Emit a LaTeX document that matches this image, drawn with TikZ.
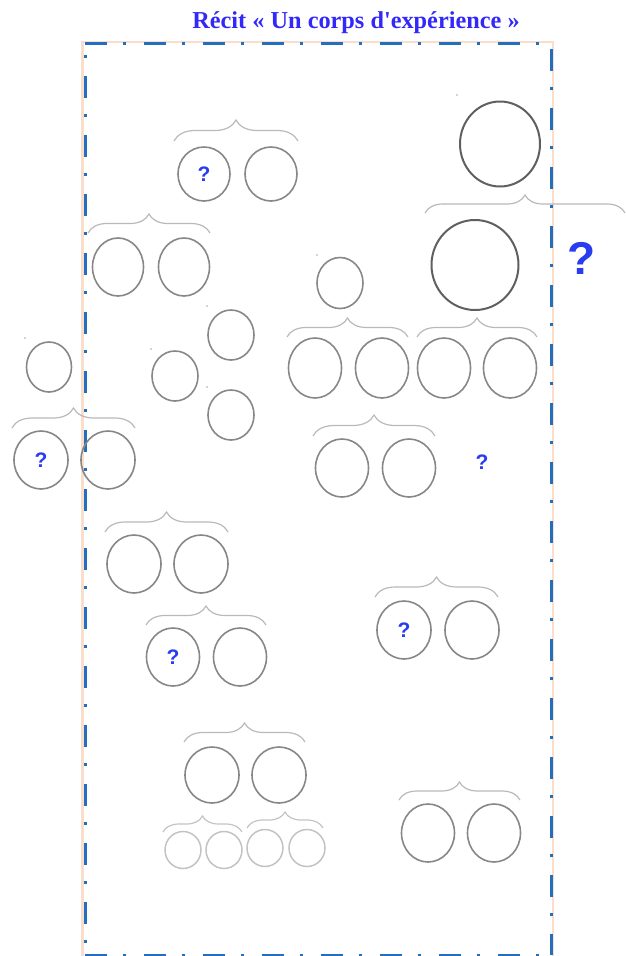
\documentclass[tikz,border=0pt]{standalone}
\usepackage{fontspec}
\setmainfont{Liberation Serif}
\newfontfamily\titlefont{Liberation Serif}
\newfontfamily\qfont{Liberation Sans}
\usetikzlibrary{shapes.geometric,decorations.pathreplacing}
\definecolor{titleblue}{RGB}{50,40,250}
\definecolor{qblue}{RGB}{40,60,240}
\definecolor{frameblue}{RGB}{35,110,190}
\definecolor{peach}{RGB}{249,222,205}
\definecolor{ringgrey}{RGB}{135,135,135}
\definecolor{darkring}{RGB}{95,95,95}
\definecolor{lightring}{RGB}{195,195,195}
\definecolor{bracegrey}{RGB}{185,185,185}
\tikzset{
  ring/.style={ellipse, draw=ringgrey, line width=1.6pt, inner sep=0pt, text=qblue,
    font=\qfont\bfseries\fontsize{21}{21}\selectfont},
  bigring/.style={ring, draw=darkring, line width=2pt},
  smallring/.style={ring, draw=lightring, line width=1.5pt},
  sz/.style 2 args={minimum width=#1pt, minimum height=#2pt},
  bracestyle/.style={draw=bracegrey, line width=1.2pt, decorate,
    decoration={brace, amplitude=#1}},
  bracestyle/.default=19pt,
  fdash/.style={draw=frameblue, line width=3pt,
    dash pattern=on 22pt off 16pt on 3pt off 18pt},
  speck/.style={fill=lightring},
  qmark/.style={text=qblue, font=\qfont\bfseries\fontsize{21}{21}\selectfont, inner sep=0pt}
}
\begin{document}
\begin{tikzpicture}[x=1pt,y=-1pt]
\useasboundingbox (0,0) rectangle (626,956);
% frame
\draw[peach, line width=2.5pt] (82.5,42) rectangle (553,962);
\draw[fdash, dash phase=0pt] (85,43) -- (551,43);
\draw[fdash, dash phase=53pt] (551,43) -- (551,955);
\draw[fdash, dash phase=0pt] (85,955) -- (551,955);
\draw[fdash, dash phase=26pt] (85,43) -- (85,955);
% title
\node[text=titleblue, font=\titlefont\bfseries\fontsize{24.3}{24.3}\selectfont, anchor=base, inner sep=0pt] (title) at (356,28)
  {Récit « Un corps d'expérience »};
% specks
\foreach \p in {(457,95),(317,255),(207,306),(151,349),(207,387),(25,338)}
  \fill[speck] \p circle (1.1);
% braces
\draw[bracestyle=21pt] (174,141) -- (298,141);
\draw[bracestyle] (88,233) -- (210,233);
\draw[bracestyle=18pt] (425,213) -- (625,213);
\draw[bracestyle] (287,337) -- (408,337);
\draw[bracestyle] (417,337) -- (537,337);
\draw[bracestyle=20pt] (12,428) -- (135,428);
\draw[bracestyle=21pt] (313,436) -- (435,436);
\draw[bracestyle=20pt] (105,532) -- (228,532);
\draw[bracestyle] (146,625) -- (266,625);
\draw[bracestyle=20pt] (375,597) -- (498,597);
\draw[bracestyle] (184,742) -- (305,742);
\draw[bracestyle=16pt, draw=lightring] (163,832) -- (242,832);
\draw[bracestyle=16pt, draw=lightring] (247,828) -- (323,828);
\draw[bracestyle=18pt] (399,800) -- (520,800);
% circles
\node[ring, sz={52}{54}] (a1) at (204,174) {?};
\node[ring, sz={52}{54}] (a2) at (271,174) {};
\node[ring, sz={51}{58}] (b1) at (118,267) {};
\node[ring, sz={51}{58}] (b2) at (184,267) {};
\node[bigring, sz={80}{85}] (t1) at (500,144) {};
\node[bigring, sz={87}{90}] (t2) at (475,265) {};
\node[ring, sz={46}{51}] (s1) at (340,283) {};
\node[ring, sz={53}{60}] (c1) at (315,368) {};
\node[ring, sz={53}{60}] (c2) at (382,368) {};
\node[ring, sz={53}{60}] (d1) at (444,368) {};
\node[ring, sz={53}{60}] (d2) at (510,368) {};
\node[ring, sz={46}{50}] (m1) at (231,335) {};
\node[ring, sz={46}{50}] (m2) at (175,376) {};
\node[ring, sz={46}{50}] (m3) at (231,415) {};
\node[ring, sz={45}{50}] (l0) at (49,367) {};
\node[ring, sz={54}{58}] (l1) at (41,460) {?};
\node[ring, sz={54}{58}] (l2) at (108,460) {};
\node[ring, sz={53}{58}] (f1) at (342,468) {};
\node[ring, sz={53}{58}] (f2) at (409,468) {};
\node[ring, sz={54}{58}] (g1) at (134,564) {};
\node[ring, sz={54}{58}] (g2) at (201,564) {};
\node[ring, sz={53}{58}] (h1) at (173,657) {?};
\node[ring, sz={53}{58}] (h2) at (240,657) {};
\node[ring, sz={54}{58}] (i1) at (404,630) {?};
\node[ring, sz={54}{58}] (i2) at (472,630) {};
\node[ring, sz={54}{56}] (j1) at (212,775) {};
\node[ring, sz={54}{56}] (j2) at (279,775) {};
\node[smallring, sz={36}{37}] (k1) at (183,850) {};
\node[smallring, sz={36}{37}] (k2) at (224,850) {};
\node[smallring, sz={36}{37}] (k3) at (265,848) {};
\node[smallring, sz={36}{37}] (k4) at (307,848) {};
\node[ring, sz={53}{58}] (n1) at (428,833) {};
\node[ring, sz={53}{58}] (n2) at (494,833) {};
% free question marks
\node[qmark] (q1) at (482,462) {?};
\node[qmark, font=\qfont\bfseries\fontsize{46}{46}\selectfont] (q2) at (582,258) {?};
\end{tikzpicture}
\end{document}
